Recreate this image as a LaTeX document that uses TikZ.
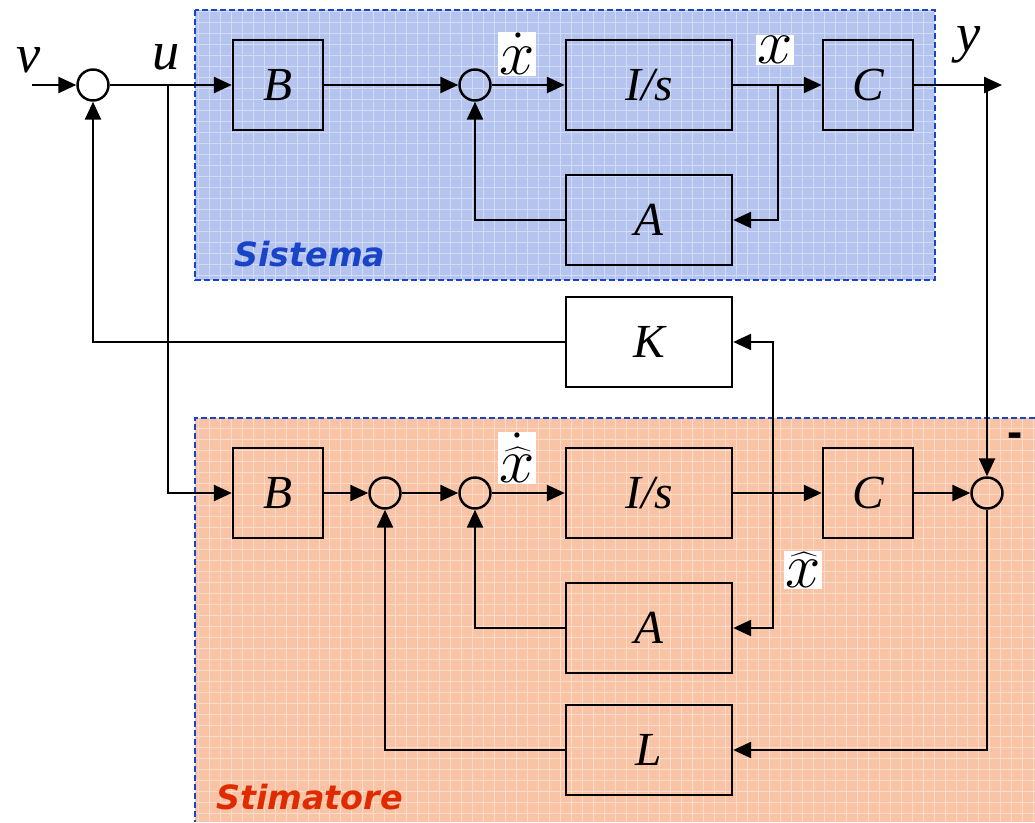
\documentclass[tikz,border=0pt]{standalone}
\usepackage{fontspec}
\setmainfont{Liberation Serif}
\newfontfamily\labelfont{DejaVu Sans}
\newfontfamily\signfont{Liberation Sans}
\usetikzlibrary{arrows.meta,positioning,calc}
\definecolor{SysBlue}{HTML}{1A44C8}
\definecolor{SysFill}{HTML}{B4C4EE}
\definecolor{EstFill}{HTML}{F9C4A6}
\definecolor{EstRed}{HTML}{E02A00}
\newcommand{\biglab}[1]{\scalebox{1.45}{\Huge$#1$}}

\begin{document}
\begin{tikzpicture}[x=0.02cm,y=-0.02cm,
  box/.style={draw,line width=1.4pt,minimum width=1.8cm,minimum height=1.8cm,inner sep=0pt,font=\fontsize{27}{30}\selectfont\itshape},
  wbox/.style={box,minimum width=3.32cm},
  sum/.style={circle,draw,line width=1.4pt,minimum size=0.62cm,inner sep=0pt},
  arrow/.style={-{Triangle[length=0.36cm,width=0.32cm]},line width=1.4pt},
  sig/.style={font=\fontsize{31}{34}\selectfont\itshape,inner sep=1pt},
  mlab/.style={fill=white,inner sep=0.5pt},
  region/.style={draw=SysBlue,line width=1.3pt,dash pattern=on 0.12cm off 0.06cm},
  hatch/.style={white,line width=0.5pt,opacity=0.4},
  title/.style={font=\labelfont\fontsize{19}{22}\selectfont\bfseries\itshape,anchor=west}
]
\useasboundingbox (0,0) rectangle (1035,822);
\fill[SysFill] (195,10) rectangle (935,280);
\fill[EstFill] (195,418) rectangle (1035,822);
\draw[hatch,step=0.22cm] (195,10) grid (935,280);
\draw[hatch,step=0.22cm] (195,418) grid (1035,822);
\draw[region] (195,10) rectangle (935,280);
\draw[region] (1035,418) -- (195,418) -- (195,822);
\node[title,text=SysBlue] (sistema) at (228,254) {Sistema};
\node[title,text=EstRed] (stimatore) at (210,797) {Stimatore};

\node[sum] (sumA) at (93,85) {};
\node[box] (B1) at (278,85) {B};
\node[sum] (sumB) at (475,85) {};
\node[wbox] (Is1) at (649,85) {I/s};
\node[box] (C1) at (868,85) {C};
\node[wbox] (A1) at (649,220) {A};
\node[wbox,fill=white] (K) at (649,342) {K};
\node[box] (B2) at (278,493) {B};
\node[sum] (sumC) at (385,493) {};
\node[sum] (sumD) at (475,493) {};
\node[wbox] (Is2) at (649,493) {I/s};
\node[box] (C2) at (868,493) {C};
\node[sum] (sumE) at (987,493) {};
\node[wbox] (A2) at (649,628) {A};
\node[wbox] (L) at (649,750) {L};

\coordinate (vin) at (32,85);
\coordinate (uj) at (168,85);
\coordinate (xj) at (778,85);
\coordinate (yj) at (987,85);
\coordinate (yout) at (1002,85);
\coordinate (xhj) at (773,493);

\node[sig] (v) at (29,60) {v};
\node[sig] (u) at (166,57) {u};
\node[sig] (y) at (969,45) {y};
\node[mlab] (xd) at (517,54) {\biglab{\dot{x}}};
\node[mlab] (x) at (775,50) {\biglab{x}};
\node[mlab] (xhd) at (517,458) {\biglab{\dot{\widehat{x}}}};
\node[mlab] (xh) at (803,570) {\biglab{\widehat{x}}};
\node[font=\signfont\fontsize{26}{30}\selectfont\bfseries] (minus) at (1015,440) {-};

\draw[arrow] (vin) -- (sumA);
\draw[arrow] (sumA) -- (B1);
\draw[arrow] (uj) |- (B2);
\draw[arrow] (B1) -- (sumB);
\draw[arrow] (sumB) -- (Is1);
\draw[arrow] (Is1) -- (C1);
\draw[arrow] (xj) |- (A1);
\draw[arrow] (A1) -| (sumB);
\draw[arrow] (C1) -- (yout);
\draw[arrow] (yj) -- (sumE);
\draw[arrow] (K) -| (sumA);
\draw[arrow] (B2) -- (sumC);
\draw[arrow] (sumC) -- (sumD);
\draw[arrow] (sumD) -- (Is2);
\draw[arrow] (Is2) -- (C2);
\draw[arrow] (C2) -- (sumE);
\draw[arrow] (xhj) |- (K);
\draw[arrow] (xhj) |- (A2);
\draw[arrow] (A2) -| (sumD);
\draw[arrow] (sumE) |- (L);
\draw[arrow] (L) -| (sumC);
\end{tikzpicture}
\end{document}
